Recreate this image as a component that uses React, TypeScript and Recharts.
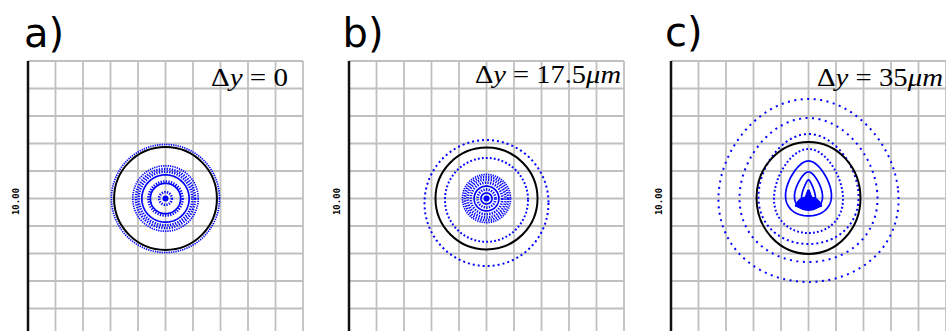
import React from "react";
import { ScatterChart, Scatter, XAxis, YAxis, CartesianGrid, ReferenceArea } from "recharts";

// grid every 2 units, single labelled tick in the middle
const gridTicks = [0, 2, 4, 6, 8, 10, 12, 14, 16, 18, 20];
const labelledTick = 10;

const panelLabels = ["a)", "b)", "c)"];
const shiftValues = ["0", "17.5", "35"];

type Contour = { x: number; y: number; rx: number; ry: number; taper: number; kind: string };

// panel a: dy = 0
const contoursA: Contour[] = [
  { x: 10, y: 10, rx: 3.93, ry: 3.93, taper: 0, kind: "fine" },
  { x: 10, y: 10, rx: 2.38, ry: 2.38, taper: 0, kind: "fine" },
  { x: 10, y: 10, rx: 2.15, ry: 2.15, taper: 0, kind: "gear" },
  { x: 10, y: 10, rx: 1.95, ry: 1.95, taper: 0, kind: "gear" },
  { x: 10, y: 10, rx: 1.72, ry: 1.72, taper: 0, kind: "solid" },
  { x: 10, y: 10, rx: 1.24, ry: 1.24, taper: 0, kind: "gear" },
  { x: 10, y: 10, rx: 1.1, ry: 1.1, taper: 0, kind: "solid" },
  { x: 10, y: 10, rx: 0.46, ry: 0.46, taper: 0, kind: "gear" },
];
const boundaryA = { x: 10, y: 10, rx: 3.74, ry: 3.74 };
const centersA = [{ x: 10, y: 10 }];

// panel b: dy = 17.5um
const contoursB: Contour[] = [
  { x: 10, y: 9.67, rx: 4.51, ry: 4.58, taper: 0, kind: "dot" },
  { x: 10, y: 9.9, rx: 3.02, ry: 3.05, taper: 0, kind: "dotFine" },
  { x: 10, y: 10, rx: 1.75, ry: 1.75, taper: 0, kind: "fine" },
  { x: 10, y: 10, rx: 1.58, ry: 1.58, taper: 0, kind: "gear" },
  { x: 10, y: 10, rx: 1.38, ry: 1.38, taper: 0, kind: "gear" },
  { x: 10, y: 10, rx: 1.15, ry: 1.15, taper: 0, kind: "gear" },
  { x: 10, y: 10, rx: 0.9, ry: 0.9, taper: 0, kind: "solid" },
  { x: 10, y: 10, rx: 0.65, ry: 0.65, taper: 0, kind: "gear" },
  { x: 10, y: 10, rx: 0.4, ry: 0.4, taper: 0, kind: "solid" },
];
const boundaryB = { x: 10, y: 10, rx: 3.71, ry: 3.71 };
const centersB = [{ x: 10, y: 10 }];

// panel c: dy = 35um
const contoursC: Contour[] = [
  { x: 10, y: 10.585, rx: 6.55, ry: 6.655, taper: 0.1, kind: "dotWide" },
  { x: 10, y: 10.615, rx: 5.02, ry: 5.235, taper: 0.12, kind: "dotWide" },
  { x: 10, y: 10.69, rx: 3.64, ry: 4.0, taper: 0.15, kind: "dot" },
  { x: 10, y: 10.545, rx: 2.51, ry: 3.055, taper: 0.2, kind: "dotFine" },
  { x: 10, y: 10.73, rx: 1.67, ry: 2.0, taper: 0.3, kind: "solid" },
  { x: 10, y: 10.545, rx: 1.02, ry: 1.385, taper: 0.35, kind: "solid" },
  { x: 10, y: 10.365, rx: 0.51, ry: 0.985, taper: 0.5, kind: "solid" },
];
const boundaryC = { x: 10, y: 10.04, rx: 3.78, ry: 4.07 };
const blobC = { x: 10, y: 9.89, rx: 0.98, ry: 0.73 };
const centersC: { x: number; y: number }[] = [];

const BLUE = "#0000ff";
const strokeStyles: Record<string, { w: number; dash?: string }> = {
  fine: { w: 1.7, dash: "1.3 1" },
  gear: { w: 2.6, dash: "1.3 1.3" },
  solid: { w: 1.7 },
  dot: { w: 2, dash: "2 3" },
  dotFine: { w: 2, dash: "1.8 2.2" },
  dotWide: { w: 2, dash: "2 4.5" },
};

function eggPath(x: number, y: number, w: number, h: number, taper: number) {
  const cx = x + w / 2;
  const cy = y + h / 2;
  const n = 160;
  const raw: [number, number][] = [];
  let maxX = 0;
  for (let i = 0; i <= n; i++) {
    const u = (i / n) * Math.PI * 2;
    const dx = Math.cos(u) * (1 + taper * Math.sin(u));
    raw.push([dx, Math.sin(u)]);
    maxX = Math.max(maxX, Math.abs(dx));
  }
  return (
    raw
      .map(([dx, dy], i) => `${i === 0 ? "M" : "L"}${(cx + (dx / maxX) * (w / 2)).toFixed(2)},${(cy + dy * (h / 2)).toFixed(2)}`)
      .join(" ") + " Z"
  );
}

const contourShape = (taper: number, kind: string) => (p: any) => {
  const st = strokeStyles[kind];
  return (
    <path
      d={eggPath(p.x, p.y, p.width, p.height, taper)}
      fill="none"
      stroke={BLUE}
      strokeWidth={st.w}
      strokeDasharray={st.dash}
    />
  );
};

const boundaryShape = (p: any) => (
  <ellipse cx={p.x + p.width / 2} cy={p.y + p.height / 2} rx={p.width / 2} ry={p.height / 2} fill="none" stroke="#000" strokeWidth={2} />
);

const blobShape = (p: any) => {
  const { x, y, width: w, height: h } = p;
  const cx = x + w / 2;
  const d = [
    `M${x},${y + 0.8 * h}`,
    `Q${x + 0.1 * w},${y + 0.4 * h} ${cx - 0.12 * w},${y + 0.35 * h}`,
    `L${cx - 0.03 * w},${y}`,
    `L${cx + 0.03 * w},${y}`,
    `L${cx + 0.12 * w},${y + 0.35 * h}`,
    `Q${x + 0.9 * w},${y + 0.4 * h} ${x + w},${y + 0.8 * h}`,
    `Q${cx},${y + 1.15 * h} ${x},${y + 0.8 * h} Z`,
  ].join(" ");
  return <path d={d} fill={BLUE} stroke={BLUE} strokeWidth={1} />;
};

const NoTick = () => <g />;

const YTick = (props: any) => {
  const { x, y, payload } = props;
  if (payload.value !== labelledTick) return <g />;
  const ty = y + 3;
  return (
    <text
      x={x}
      y={ty}
      transform={`rotate(-90 ${x} ${ty})`}
      textAnchor="middle"
      fontSize={9}
      fontWeight="bold"
      fontFamily="DejaVu Sans Mono"
      fill="#000"
    >
      {Number(payload.value).toFixed(2)}
    </text>
  );
};

type PanelProps = {
  left: number;
  contours: Contour[];
  boundary: { x: number; y: number; rx: number; ry: number };
  centers: { x: number; y: number }[];
  blob?: { x: number; y: number; rx: number; ry: number };
};

const Panel = ({ left, contours, boundary, centers, blob }: PanelProps) => (
  <div style={{ position: "absolute", left, top: 0 }}>
    <ScatterChart width={300} height={341} margin={{ top: 61, right: 5, bottom: 5, left: 0 }}>
      <CartesianGrid stroke="#c0c0c0" strokeWidth={1.8} />
      <XAxis
        type="number"
        dataKey="x"
        domain={[0, 20]}
        ticks={gridTicks}
        allowDataOverflow
        axisLine={false}
        tickLine={false}
        tick={<NoTick />}
        interval={0}
        height={0}
      />
      <YAxis
        type="number"
        dataKey="y"
        domain={[0, 20]}
        ticks={gridTicks}
        allowDataOverflow
        width={20}
        axisLine={{ stroke: "#111", strokeWidth: 2.5 }}
        tickLine={false}
        tickSize={0}
        tickMargin={9}
        tick={<YTick />}
        interval={0}
      />
      {contours.map((c, i) => (
        <ReferenceArea
          key={i}
          x1={c.x - c.rx}
          x2={c.x + c.rx}
          y1={c.y - c.ry}
          y2={c.y + c.ry}
          shape={contourShape(c.taper, c.kind)}
        />
      ))}
      {blob && (
        <ReferenceArea x1={blob.x - blob.rx} x2={blob.x + blob.rx} y1={blob.y - blob.ry} y2={blob.y + blob.ry} shape={blobShape} />
      )}
      <ReferenceArea
        x1={boundary.x - boundary.rx}
        x2={boundary.x + boundary.rx}
        y1={boundary.y - boundary.ry}
        y2={boundary.y + boundary.ry}
        shape={boundaryShape}
      />
      <Scatter data={centers} fill={BLUE} isAnimationActive={false} shape={(p: any) => <circle cx={p.cx} cy={p.cy} r={3} fill={BLUE} />} />
    </ScatterChart>
  </div>
);

const labelPos = [
  { x: 24, y: 47 },
  { x: 342.5, y: 47 },
  { x: 665, y: 46 },
];
const shiftPos = [
  { x: 211, y: 86, len: 77 },
  { x: 475, y: 83, len: 146 },
  { x: 817, y: 86, len: 126 },
];

export default function App() {
  return (
    <div
      style={{
        position: "fixed",
        left: 0,
        top: 0,
        width: 946,
        height: 331,
        overflow: "hidden",
        background: "#fff",
        fontFamily: "DejaVu Sans",
      }}
    >
      <Panel left={8} contours={contoursA} boundary={boundaryA} centers={centersA} />
      <Panel left={329} contours={contoursB} boundary={boundaryB} centers={centersB} />
      <Panel left={651} contours={contoursC} boundary={boundaryC} centers={centersC} blob={blobC} />
      <svg width={946} height={331} style={{ position: "absolute", left: 0, top: 0, pointerEvents: "none" }}>
        {panelLabels.map((t, i) => (
          <text key={t} x={labelPos[i].x} y={labelPos[i].y} fontSize={40} fontFamily="DejaVu Sans" fill="#000">
            {t}
          </text>
        ))}
        {shiftValues.map((v, i) => (
          <text
            key={v}
            x={shiftPos[i].x}
            y={shiftPos[i].y}
            fontSize={26}
            fontFamily="Liberation Serif"
            fill="#000"
            textLength={shiftPos[i].len}
            lengthAdjust="spacingAndGlyphs"
          >
            {"Δ"}
            <tspan fontStyle="italic">y</tspan>
            {" = " + v}
            {i > 0 && <tspan fontStyle="italic">{"μm"}</tspan>}
          </text>
        ))}
      </svg>
    </div>
  );
}
